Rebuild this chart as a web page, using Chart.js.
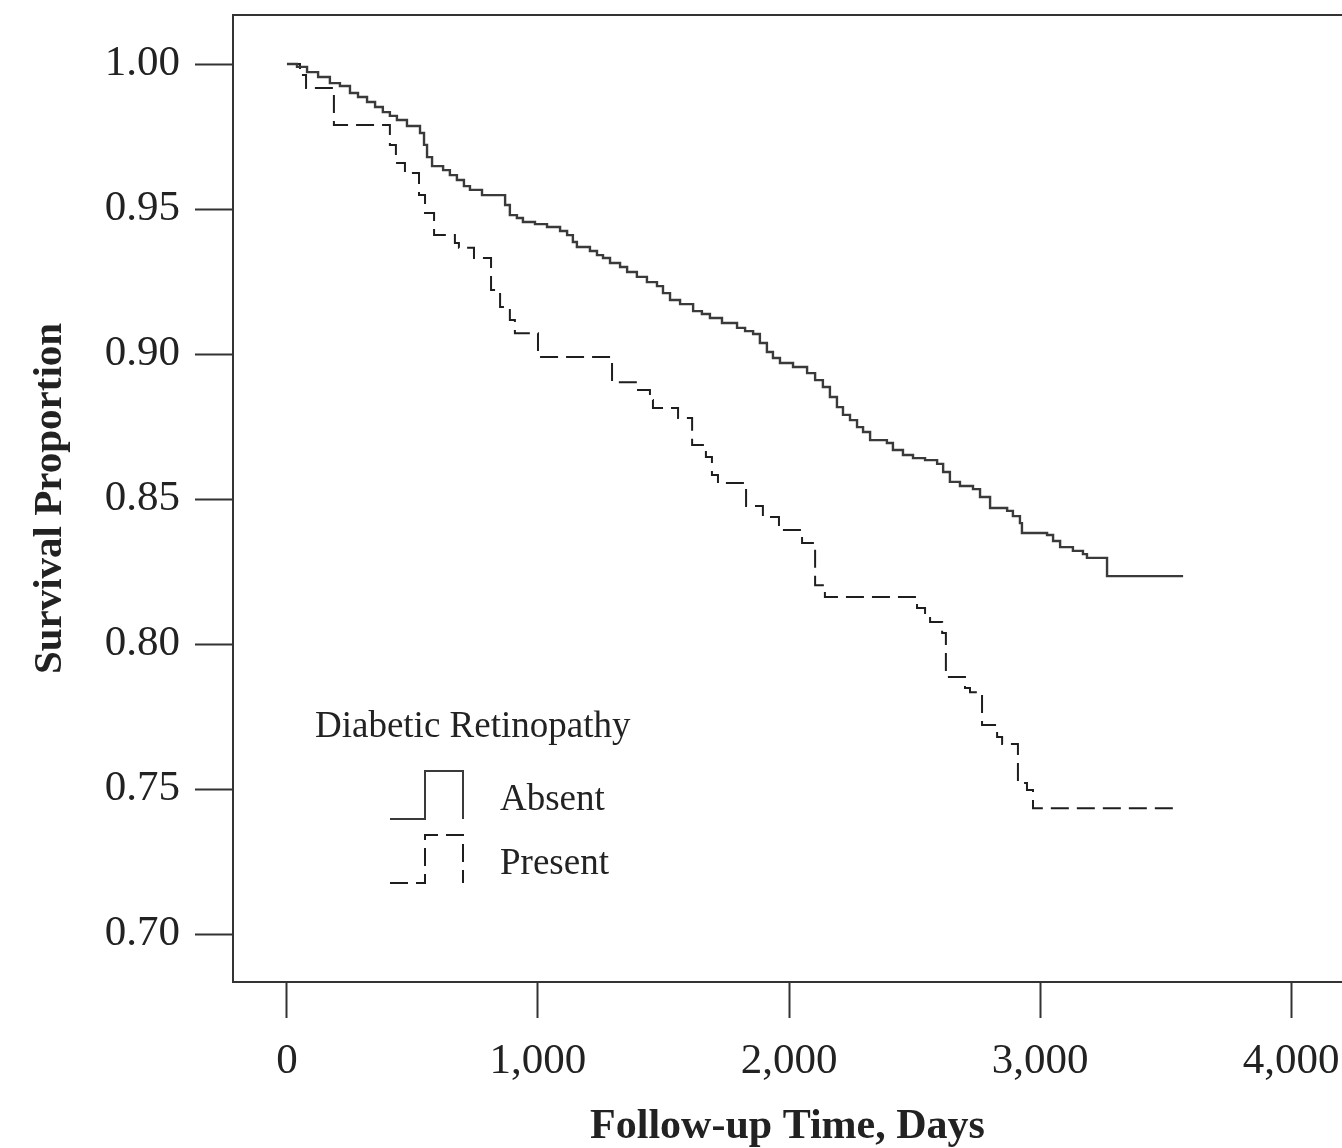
<!DOCTYPE html>
<html lang="en">
<head>
  <meta charset="UTF-8">
  <title>Survival by Diabetic Retinopathy</title>
  <script src="https://cdn.jsdelivr.net/npm/chart.js"></script>
  <style>
    html, body { margin: 0; padding: 0; background: #fff; }
  </style>
</head>
<body>
  <canvas id="kmChart" width="1342" height="1148"></canvas>

  <script>
    // Kaplan-Meier steps (days, survival proportion)
    const absentDays = [0, 40, 80, 124, 171, 211, 251, 283, 319, 351, 382, 410, 438, 478, 530, 546, 558, 578, 622, 649,
      677, 705, 729, 777, 869, 888, 916, 940, 988, 1036, 1088, 1116, 1139, 1155, 1207, 1235, 1259, 1287, 1327, 1355,
      1394, 1434, 1474, 1498, 1526, 1566, 1618, 1653, 1685, 1733, 1793, 1825, 1857, 1884, 1912, 1936, 1964, 2016, 2072, 2104,
      2135, 2163, 2191, 2215, 2243, 2271, 2295, 2323, 2390, 2414, 2454, 2494, 2542, 2590, 2614, 2641, 2681, 2733, 2761, 2801,
      2869, 2892, 2920, 2928, 3028, 3052, 3080, 3131, 3171, 3187, 3267, 3570];
    const absentSurv = [1.000, 0.9990, 0.9972, 0.9955, 0.9934, 0.9924, 0.9900, 0.9886, 0.9869, 0.9852, 0.9834, 0.9821, 0.9807, 0.9786, 0.9762, 0.9721, 0.9679, 0.9648, 0.9634, 0.9617,
      0.9600, 0.9579, 0.9566, 0.9548, 0.9514, 0.9479, 0.9469, 0.9455, 0.9448, 0.9438, 0.9424, 0.9410, 0.9386, 0.9369, 0.9355, 0.9341, 0.9331, 0.9314, 0.9300, 0.9283,
      0.9266, 0.9248, 0.9234, 0.9210, 0.9186, 0.9172, 0.9148, 0.9138, 0.9124, 0.9107, 0.9090, 0.9079, 0.9069, 0.9038, 0.9007, 0.8986, 0.8969, 0.8955, 0.8934, 0.8910,
      0.8886, 0.8852, 0.8817, 0.8790, 0.8772, 0.8748, 0.8731, 0.8703, 0.8693, 0.8669, 0.8652, 0.8641, 0.8634, 0.8621, 0.8593, 0.8559, 0.8545, 0.8534, 0.8507, 0.8469,
      0.8459, 0.8441, 0.8417, 0.8383, 0.8376, 0.8355, 0.8334, 0.8321, 0.8310, 0.8297, 0.8234, 0.8234];

    const presentDays = [0, 52, 76, 187, 410, 434, 470, 526, 550, 586, 669, 685, 745, 813, 849, 888, 908, 1000, 1295, 1394,
      1446, 1458, 1558, 1614, 1669, 1693, 1717, 1829, 1896, 1960, 2052, 2104, 2143, 2510, 2542, 2562, 2610, 2625, 2701, 2721,
      2769, 2829, 2849, 2912, 2948, 2972, 3530];
    const presentSurv = [1.000, 0.9962, 0.9917, 0.9790, 0.9721, 0.9659, 0.9624, 0.9548, 0.9486, 0.9410, 0.9383, 0.9366, 0.9331, 0.9221, 0.9162, 0.9117, 0.9072, 0.8990, 0.8903, 0.8876,
      0.8841, 0.8814, 0.8779, 0.8686, 0.8645, 0.8583, 0.8555, 0.8476, 0.8438, 0.8393, 0.8348, 0.8203, 0.8162, 0.8124, 0.8090, 0.8076, 0.8038, 0.7886, 0.7848, 0.7834,
      0.7721, 0.7679, 0.7655, 0.7521, 0.7497, 0.7434, 0.7434];

    const seriesLabels = ['Absent', 'Present'];
    const legendTitle = 'Diabetic Retinopathy';
    const xTicks = [0, 1000, 2000, 3000, 4000];
    const yTicks = [0.70, 0.75, 0.80, 0.85, 0.90, 0.95, 1.00];

    const ink = '#222';
    const serif = '"Liberation Serif", "Times New Roman", serif';

    function toPoints(xs, ys) {
      return xs.map((x, i) => ({ x: x, y: ys[i] }));
    }

    // top edge of the box (R draws a full frame, the right side is cropped off)
    const framePlugin = {
      id: 'frame',
      afterDraw(chart) {
        const { ctx, chartArea } = chart;
        ctx.save();
        ctx.strokeStyle = '#333';
        ctx.lineWidth = 2;
        ctx.beginPath();
        ctx.moveTo(chartArea.left - 1, chartArea.top);
        ctx.lineTo(chartArea.right, chartArea.top);
        ctx.stroke();
        ctx.restore();
      }
    };

    // R-style legend with little step glyphs
    const stepLegend = {
      id: 'stepLegend',
      afterDatasetsDraw(chart) {
        const ctx = chart.ctx;
        ctx.save();
        ctx.fillStyle = ink;
        ctx.font = '37px ' + serif;
        ctx.textBaseline = 'alphabetic';
        ctx.fillText(legendTitle, 315, 737);
        chart.data.datasets.forEach((ds, i) => {
          const low = 819 + i * 64;
          const high = 771 + i * 64;
          ctx.strokeStyle = ds.borderColor;
          ctx.lineWidth = 2;
          ctx.setLineDash(ds.borderDash || []);
          ctx.beginPath();
          ctx.moveTo(390, low);
          ctx.lineTo(425, low);
          ctx.lineTo(425, high);
          ctx.lineTo(463, high);
          ctx.lineTo(463, low);
          ctx.stroke();
          ctx.setLineDash([]);
          ctx.fillText(ds.label, 500, 810 + i * 64);
        });
        ctx.restore();
      }
    };

    const ctx = document.getElementById('kmChart').getContext('2d');

    new Chart(ctx, {
      type: 'line',
      data: {
        datasets: [
          {
            label: seriesLabels[0],
            data: toPoints(absentDays, absentSurv),
            borderColor: '#3a3a3a',
            borderWidth: 2.4,
            stepped: true,
            pointRadius: 0,
            fill: false
          },
          {
            label: seriesLabels[1],
            data: toPoints(presentDays, presentSurv),
            borderColor: '#1e1e1e',
            borderWidth: 2,
            borderDash: [18, 8],
            stepped: true,
            pointRadius: 0,
            fill: false
          }
        ]
      },
      options: {
        responsive: false,
        devicePixelRatio: 1,
        animation: false,
        layout: { padding: { top: 15, left: 0, right: 0, bottom: 0 } },
        scales: {
          x: {
            type: 'linear',
            min: -215,
            max: 4203,
            afterBuildTicks: (scale) => { scale.ticks = xTicks.map(v => ({ value: v })); },
            afterFit: (scale) => { scale.height = 166; scale.paddingLeft = 0; scale.paddingRight = 0; },
            ticks: {
              padding: 18,
              color: ink,
              font: { family: serif, size: 43 },
              maxRotation: 0,
              autoSkip: false,
              callback: (v) => v.toLocaleString('en-US')
            },
            grid: {
              drawOnChartArea: false,
              drawTicks: true,
              tickLength: 36,
              tickWidth: 2,
              tickColor: '#333'
            },
            border: { display: true, color: '#333', width: 2 },
            title: {
              display: true,
              text: 'Follow-up Time, Days',
              color: ink,
              font: { family: serif, size: 42, weight: 'bold', lineHeight: 1.0 },
              padding: { top: 0, bottom: 0 }
            }
          },
          y: {
            type: 'linear',
            min: 0.68345,
            max: 1.0169,
            afterBuildTicks: (scale) => { scale.ticks = yTicks.map(v => ({ value: v })); },
            afterFit: (scale) => { scale.width = 233; scale.paddingTop = 0; scale.paddingBottom = 0; },
            ticks: {
              padding: 15,
              color: ink,
              font: { family: serif, size: 43 },
              autoSkip: false,
              callback: (v) => v.toFixed(2)
            },
            grid: {
              drawOnChartArea: false,
              drawTicks: true,
              tickLength: 38,
              tickWidth: 2,
              tickColor: '#333'
            },
            border: { display: true, color: '#333', width: 2 },
            title: {
              display: true,
              text: 'Survival Proportion',
              color: ink,
              font: { family: serif, size: 41, weight: 'bold' },
              padding: { top: 26, bottom: 0 }
            }
          }
        },
        plugins: {
          legend: { display: false },
          tooltip: { enabled: false }
        }
      },
      plugins: [framePlugin, stepLegend]
    });
  </script>
</body>
</html>
